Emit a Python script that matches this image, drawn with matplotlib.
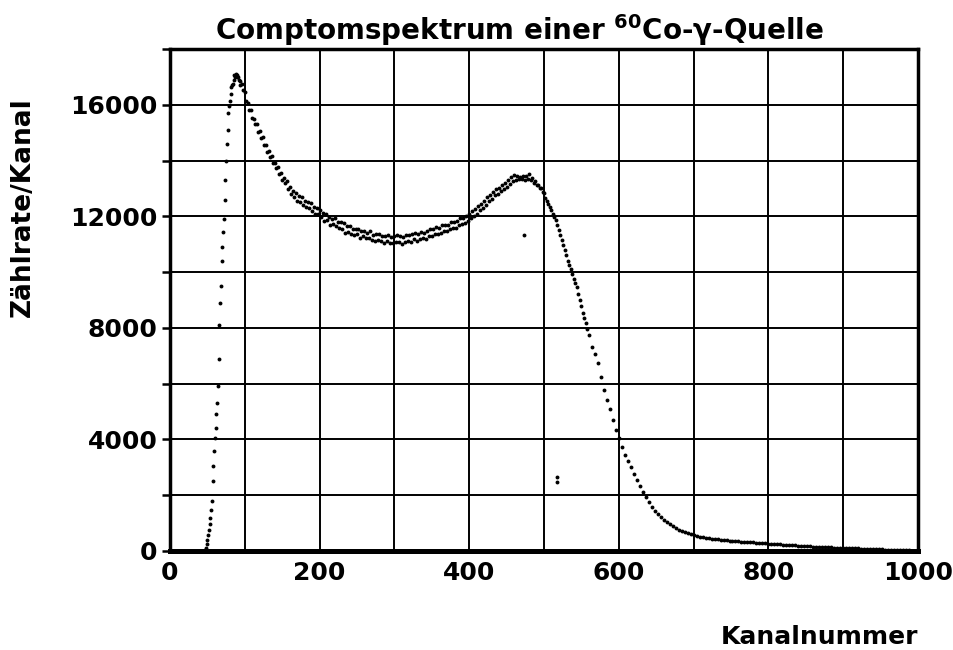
import numpy as np
import matplotlib.pyplot as plt
from matplotlib.ticker import MultipleLocator

plt.rcParams['font.family'] = 'DejaVu Sans'
plt.rcParams['font.weight'] = 'bold'
plt.rcParams['mathtext.fontset'] = 'dejavusans'

# steep rise, one point per channel
rise_ch = np.arange(47, 95)
rise_counts = [30, 120, 250, 400, 560, 760, 960, 1200, 1480, 1800,
               2500, 3050, 3600, 4050, 4400, 4900, 5300, 5900, 6900, 8100,
               8900, 9500, 10400, 10900, 11450, 11900, 12600, 13300, 14000, 14600,
               15100, 15700, 15950, 16150, 16400, 16650, 16700, 16750, 16900, 17050,
               17000, 17100, 17050, 16980, 17000, 16900, 16850, 16700]

# compton continuum + edge, every 2nd channel
mid_ch = np.arange(96, 561, 2)
mid_counts = [16740, 16520, 16450, 16150, 16080, 15830, 15810, 15510, 15490, 15300,
              15320, 15040, 15050, 14810, 14830, 14550, 14540, 14300, 14340, 14140,
              14150, 13900, 13930, 13720, 13770, 13510, 13540, 13310,
              13390, 13180, 13250, 12980, 13050, 12810, 12920, 12710, 12830, 12550,
              12720, 12530, 12690, 12420, 12560, 12330, 12520, 12300, 12490, 12200,
              12330, 12090, 12290, 12070, 12220,
              11960, 12110, 11850, 12090, 11860, 11980, 11700, 11920, 11720, 11940,
              11640, 11790, 11570, 11800, 11560, 11760, 11420, 11650, 11440, 11670,
              11380, 11550, 11330, 11560, 11350, 11550, 11240, 11470, 11290, 11490,
              11210, 11420, 11220, 11460, 11150, 11340, 11110, 11370, 11160, 11370,
              11110, 11300, 11030, 11310, 11100, 11340, 11060, 11260, 11030, 11290,
              11070, 11330, 11090, 11280, 11025, 11270, 11070, 11340, 11120, 11320,
              11065, 11350, 11170, 11400, 11130, 11360, 11175, 11440, 11215, 11410,
              11200, 11490, 11295, 11530, 11295, 11530, 11365, 11610, 11350, 11590,
              11420, 11680, 11470, 11690, 11460, 11700, 11540, 11790, 11590, 11800,
              11595, 11840, 11695, 11940, 11725, 11930, 11755, 12010, 11850, 12080,
              11940, 12180, 12010, 12250, 12090, 12380, 12220, 12460, 12290, 12560,
              12420, 12710, 12550, 12780, 12625, 12890, 12760, 12990, 12805, 13030,
              12900, 13130, 12975, 13210, 13035, 13290, 13175, 13420, 13260, 13500,
              13310, 13450, 13325, 13420, 13325, 13440, 13315, 13430, 13330, 13510,
              13290, 13360, 13210, 13250, 13120, 13140, 13010, 13030, 12870, 12840,
              12670, 12550, 12460, 12350, 12210, 12100, 11980, 11860, 11680, 11500,
              11320, 11150, 10980, 10800, 10600, 10400, 10250, 10100, 9920, 9750,
              9610, 9470, 9230, 9000, 8780, 8550, 8350, 8160, 7950, 7740]

# falling edge and tail, every 4th channel
tail_ch = np.arange(564, 1001, 4)
tail_counts = [7320, 7050, 6750, 6250, 5770, 5420, 5080, 4700, 4350, 4040,
               3720, 3450, 3230, 3020, 2760, 2540, 2340, 2110, 1920, 1750,
               1590, 1450, 1320, 1220, 1120, 1040, 960, 890, 830, 770,
               720, 670, 640, 600, 570, 540, 515, 495, 470, 455,
               440, 425, 415, 405, 395, 385, 375, 365, 355, 345,
               338, 330, 322, 315, 308, 300, 292, 285, 275, 268,
               262, 255, 248, 240, 232, 225, 217, 210, 200, 190,
               185, 178, 172, 166, 160, 155, 150, 145, 140, 135,
               130, 125, 120, 115, 110, 106, 102, 98, 94, 90,
               85, 80, 76, 72, 68, 64, 60, 56, 52, 48,
               44, 40, 36, 32, 28, 24, 20, 16, 12, 8]

# stray points
stray_ch = [473, 518, 518]
stray_counts = [11330, 2660, 2480]

fig = plt.figure(figsize=(9.54, 6.5), dpi=100)
ax = fig.add_axes([170/954, 1 - 551/650, (918 - 170)/954, (551 - 49)/650])

for xs, ys in [(rise_ch, rise_counts), (mid_ch, mid_counts),
               (tail_ch, tail_counts), (stray_ch, stray_counts)]:
    ax.plot(xs, ys, 'o', ms=2.8, color='black', mew=0, zorder=3)

ax.set_xlim(0, 1000)
ax.set_ylim(0, 18000)
ax.xaxis.set_major_locator(MultipleLocator(200))
ax.xaxis.set_minor_locator(MultipleLocator(100))
ax.yaxis.set_major_locator(MultipleLocator(4000))
ax.yaxis.set_minor_locator(MultipleLocator(2000))
ax.grid(which='both', color='black', lw=1.4)

ax.tick_params(axis='y', which='both', direction='out', length=6, width=1.8,
               labelsize=18, pad=3)
ax.tick_params(axis='x', which='both', length=0, labelsize=18, pad=7)

for s in ax.spines.values():
    s.set_linewidth(2.5)
ax.spines['bottom'].set_linewidth(3.6)

fig.text(519/954, 1 - 30/650, r'Comptomspektrum einer $^{\mathbf{60}}$Co-γ-Quelle',
         ha='center', va='center', fontsize=20)
fig.text(23/954, 1 - 207/650, 'Zählrate/Kanal', rotation=90,
         ha='center', va='center', fontsize=19)
fig.text(918/954, 1 - 637/650, 'Kanalnummer', ha='right', va='center', fontsize=18)

fig.savefig('out.png', dpi=100)
